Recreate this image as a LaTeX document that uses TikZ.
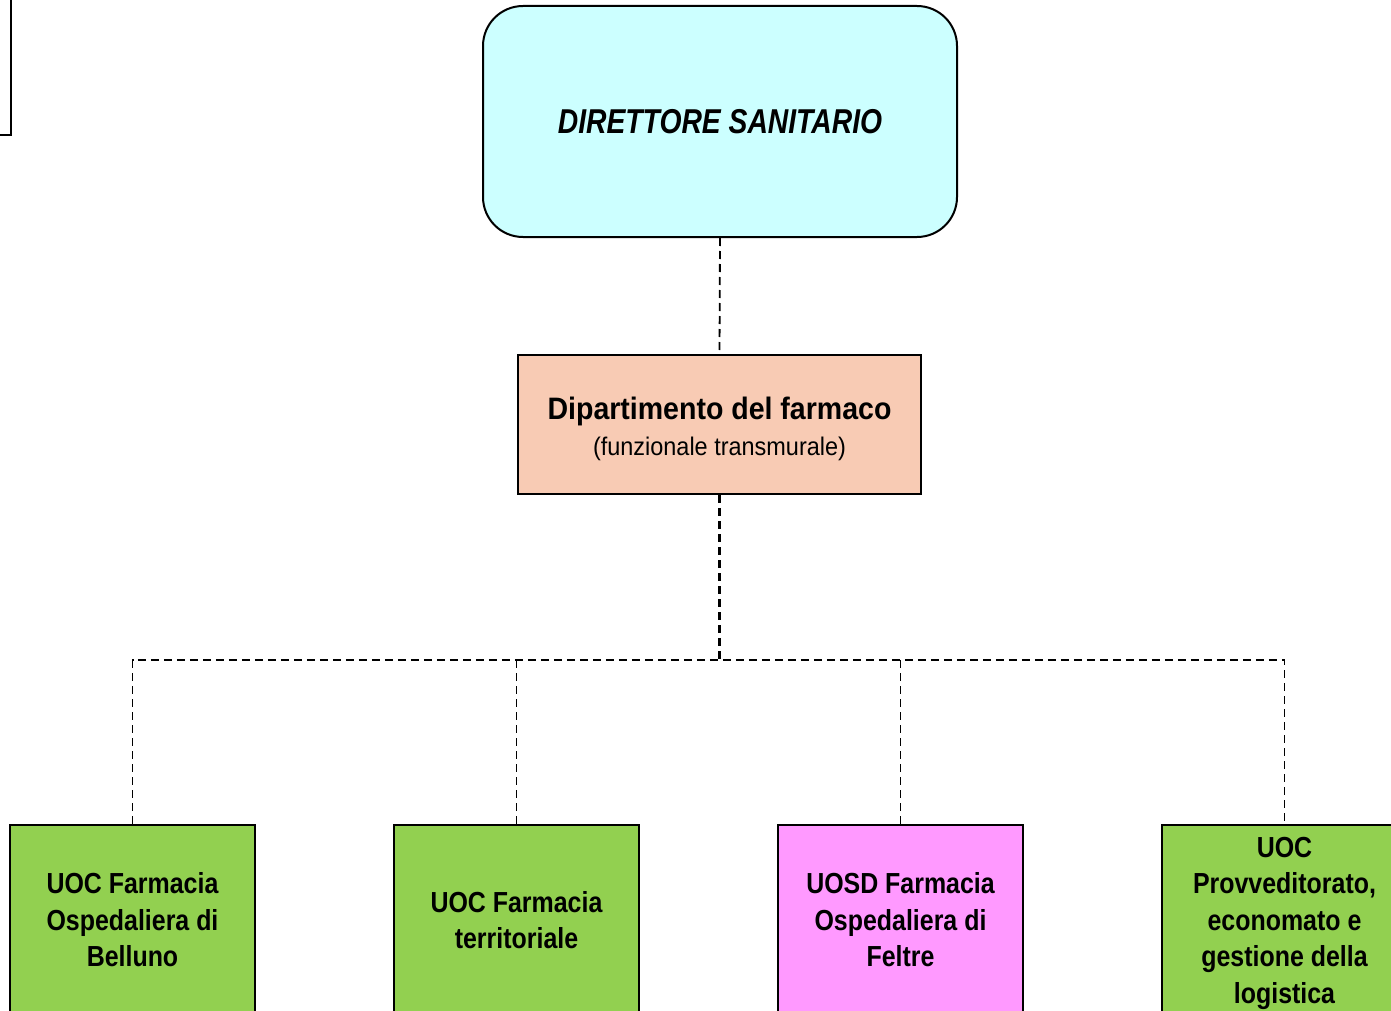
\documentclass[tikz,border=0pt]{standalone}
\usepackage{fontspec}
\setmainfont{Liberation Sans}[FakeStretch=0.86]
\newfontfamily\dirfont{Liberation Sans}[FakeStretch=0.82]
\newfontfamily\dipfont{Liberation Sans}[FakeStretch=0.92]
\usepackage[dvipsnames]{xcolor}
\usepackage{tikz}
\usetikzlibrary{positioning}
\definecolor{dircyan}{HTML}{CCFFFF}
\definecolor{dipsalmon}{HTML}{F8CBB4}
\definecolor{uocgreen}{HTML}{92D050}
\definecolor{uosdpink}{HTML}{FF99FF}

\begin{document}
\begin{tikzpicture}[x=1pt,y=-1pt,
		dirbox/.style={draw,line width=2pt,fill=dircyan,rounded corners=40pt,minimum width=474pt,minimum height=231pt,inner sep=0pt},
		dipbox/.style={draw,line width=2.5pt,fill=dipsalmon,minimum width=403pt,minimum height=139pt,inner sep=0pt},
		unitbox/.style={draw,line width=2.5pt,minimum width=245pt,minimum height=190pt,inner sep=0pt,align=center,font=\fontsize{29}{36.5}\selectfont\bfseries},
		link/.style={black,line width=1.8pt,dash pattern=on 8pt off 5pt}]
	\clip (0,0) rectangle (1391,1011);
	% cornice a sinistra
	\draw[line width=2pt] (-300,-20) rectangle (11,135);
	\node[dirbox] (dir) at (720,121.5) {\dirfont\fontsize{34.5}{40}\selectfont\bfseries\itshape DIRETTORE SANITARIO};
	\node[dipbox,label={[align=center,yshift=-4pt]center:{\dipfont\fontsize{31}{37}\selectfont\bfseries Dipartimento del farmaco}\\[10pt]{\dipfont\fontsize{25.5}{30}\selectfont (funzionale transmurale)}}] (dip) at (719.5,424.5) {};
	\node[unitbox,fill=uocgreen] (bel) at (132.5,920) {UOC Farmacia\\Ospedaliera di\\Belluno};
	\node[unitbox,fill=uocgreen] (ter) at (516.5,920) {UOC Farmacia\\territoriale};
	\node[unitbox,fill=uosdpink] (fel) at (900.5,920) {UOSD Farmacia\\Ospedaliera di\\Feltre};
	\node[unitbox,fill=uocgreen,minimum height=196pt] (pro) at (1284.5,923) {UOC\\Provveditorato,\\economato e\\gestione della\\logistica};
	\coordinate (split) at (719.5,660);
	\draw[link] (dir.south) -- (dip.north);
	\draw[link,line width=2.5pt] (dip.south) -- (split);
	\draw[link,line width=1.5pt] (bel.north) -- (bel.north |- split) -- (pro.north |- split) -- (pro.north);
	\draw[link,line width=1.5pt] (ter.north |- split) -- (ter.north);
	\draw[link,line width=1.5pt] (fel.north |- split) -- (fel.north);
\end{tikzpicture}
\end{document}
